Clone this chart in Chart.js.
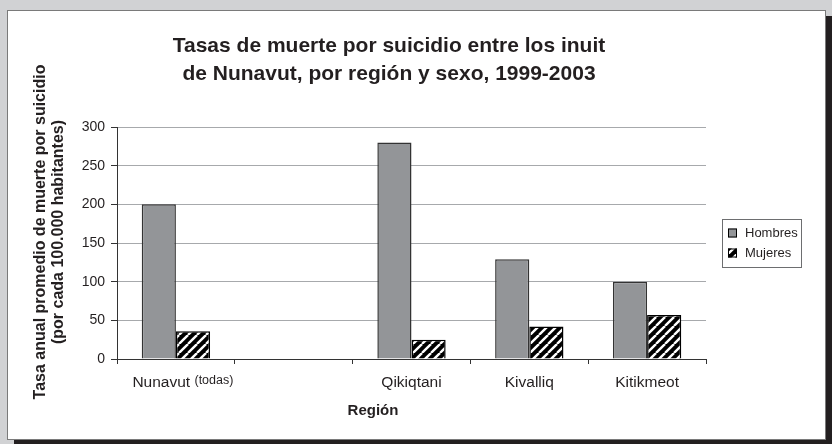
<!DOCTYPE html>
<html>
<head>
<meta charset="utf-8">
<script src="https://cdn.jsdelivr.net/npm/chart.js@4"></script>
<style>
  html, body { margin: 0; padding: 0; }
  body { width: 832px; height: 444px; background: #d1d2d4; position: relative; overflow: hidden; }
  #frame {
    position: absolute; left: 7px; top: 10px; width: 819px; height: 430px;
    box-sizing: border-box; background: #fff; border: 1px solid #7a7a7a;
    box-shadow: 7px 6px 0 #231f20;
  }
  #chart { display: block; }
</style>
</head>
<body>
<div id="frame"><canvas id="chart" width="817" height="428"></canvas></div>
<script>
const categories = ["Nunavut", "", "Qikiqtani", "Kivalliq", "Kitikmeot"];
const categoryNotes = ["(todas)", "", "", "", ""];
const hombres = [200, null, 280, 129, 100];
const mujeres = [36, null, 25, 42, 57];
const yTicks = [0, 50, 100, 150, 200, 250, 300];

const titleLines = ["Tasas de muerte por suicidio entre los inuit", "de Nunavut, por región y sexo, 1999-2003"];
const yTitleLines = ["Tasa anual promedio de muerte por suicidio", "(por cada 100.000 habitantes)"];
const xTitle = "Región";

const FONT = "'Liberation Sans', Arial, sans-serif";
const INK = "#231f20";

// black with white diagonal stripes
function hatch() {
  const s = 9;
  const c = document.createElement("canvas");
  c.width = s; c.height = s;
  const g = c.getContext("2d");
  g.fillStyle = "#000";
  g.fillRect(0, 0, s, s);
  g.strokeStyle = "#fff";
  g.lineWidth = 2.4;
  for (let k = -1; k <= 1; k++) {
    g.beginPath();
    g.moveTo(k * s, s);
    g.lineTo(k * s + s, 0);
    g.stroke();
  }
  return g.createPattern(c, "repeat");
}
const hatchFill = hatch();

const decor = {
  id: "decor",
  afterDraw(chart) {
    const ctx = chart.ctx;
    const area = chart.chartArea;
    const xs = chart.scales.x;
    ctx.save();
    ctx.fillStyle = INK;

    // title
    ctx.font = "bold 21px " + FONT;
    ctx.textAlign = "center";
    ctx.textBaseline = "middle";
    titleLines.forEach((t, i) => ctx.fillText(t, area.left + 272, 35 + i * 28));

    // x labels
    categories.forEach((c, i) => {
      if (!c) return;
      const x = xs.getPixelForValue(i);
      const y = area.bottom + 24;
      ctx.textBaseline = "middle";
      if (categoryNotes[i]) {
        ctx.font = "15.5px " + FONT;
        const w1 = ctx.measureText(c + " ").width;
        ctx.font = "12.5px " + FONT;
        const w2 = ctx.measureText(categoryNotes[i]).width;
        let x0 = x + 7 - (w1 + w2) / 2;
        ctx.textAlign = "left";
        ctx.font = "15.5px " + FONT;
        ctx.fillText(c + " ", x0, y);
        ctx.font = "12.5px " + FONT;
        ctx.fillText(categoryNotes[i], x0 + w1, y - 2);
      } else {
        ctx.textAlign = "center";
        ctx.font = "15.5px " + FONT;
        ctx.fillText(c, x, y);
      }
    });

    // x title
    ctx.font = "bold 15px " + FONT;
    ctx.textAlign = "center";
    ctx.fillText(xTitle, area.left + 256, area.bottom + 52);

    // y title
    ctx.save();
    ctx.translate(33, (area.top + area.bottom) / 2 - 11);
    ctx.rotate(-Math.PI / 2);
    ctx.font = "bold 16px " + FONT;
    yTitleLines.forEach((t, i) => ctx.fillText(t, 0, i * 18));
    ctx.restore();

    // legend
    const bx = area.right + 16, bw = 79, bh = 48;
    const by = (area.top + area.bottom) / 2 - bh / 2;
    ctx.strokeStyle = "#6d6e70";
    ctx.lineWidth = 1;
    ctx.strokeRect(bx + 0.5, by + 0.5, bw, bh);
    chart.data.datasets.forEach((ds, i) => {
      const cy = by + 14 + i * 20;
      ctx.fillStyle = ds.backgroundColor;
      ctx.fillRect(bx + 6, cy - 4.5, 9, 9);
      ctx.strokeStyle = "#000";
      ctx.strokeRect(bx + 6.5, cy - 4, 8, 8);
      ctx.fillStyle = INK;
      ctx.font = "13px " + FONT;
      ctx.textAlign = "left";
      ctx.fillText(ds.label, bx + 23, cy);
    });
    ctx.restore();
  }
};

new Chart(document.getElementById("chart"), {
  type: "bar",
  data: {
    labels: categories,
    datasets: [
      {
        label: "Hombres",
        data: hombres,
        backgroundColor: "#939598",
        borderColor: "#333",
        borderWidth: 1.5,
      },
      {
        label: "Mujeres",
        data: mujeres,
        backgroundColor: hatchFill,
        borderColor: "#000",
        borderWidth: 1.5,
      },
    ],
  },
  options: {
    responsive: false,
    animation: false,
    categoryPercentage: 0.58,
    barPercentage: 1.0,
    layout: { padding: { top: 116, right: 119, bottom: 0, left: 0 } },
    plugins: { legend: { display: false }, title: { display: false }, tooltip: { enabled: false } },
    scales: {
      x: {
        offset: true,
        afterFit: (s) => { s.height = 80; },
        grid: { offset: true, drawOnChartArea: false, tickLength: 5, color: "#333" },
        border: { color: "#333", width: 1 },
        ticks: { display: false },
      },
      y: {
        min: 0,
        max: 300,
        afterFit: (s) => { s.width = 109; },
        afterBuildTicks: (s) => { s.ticks = yTicks.map((v) => ({ value: v })); },
        grid: { color: "#a7a9ac", tickColor: "#333", tickLength: 6 },
        border: { color: "#333", width: 1 },
        ticks: { color: INK, font: { family: FONT, size: 14 }, padding: 6 },
      },
    },
  },
  plugins: [decor],
});
</script>
</body>
</html>
